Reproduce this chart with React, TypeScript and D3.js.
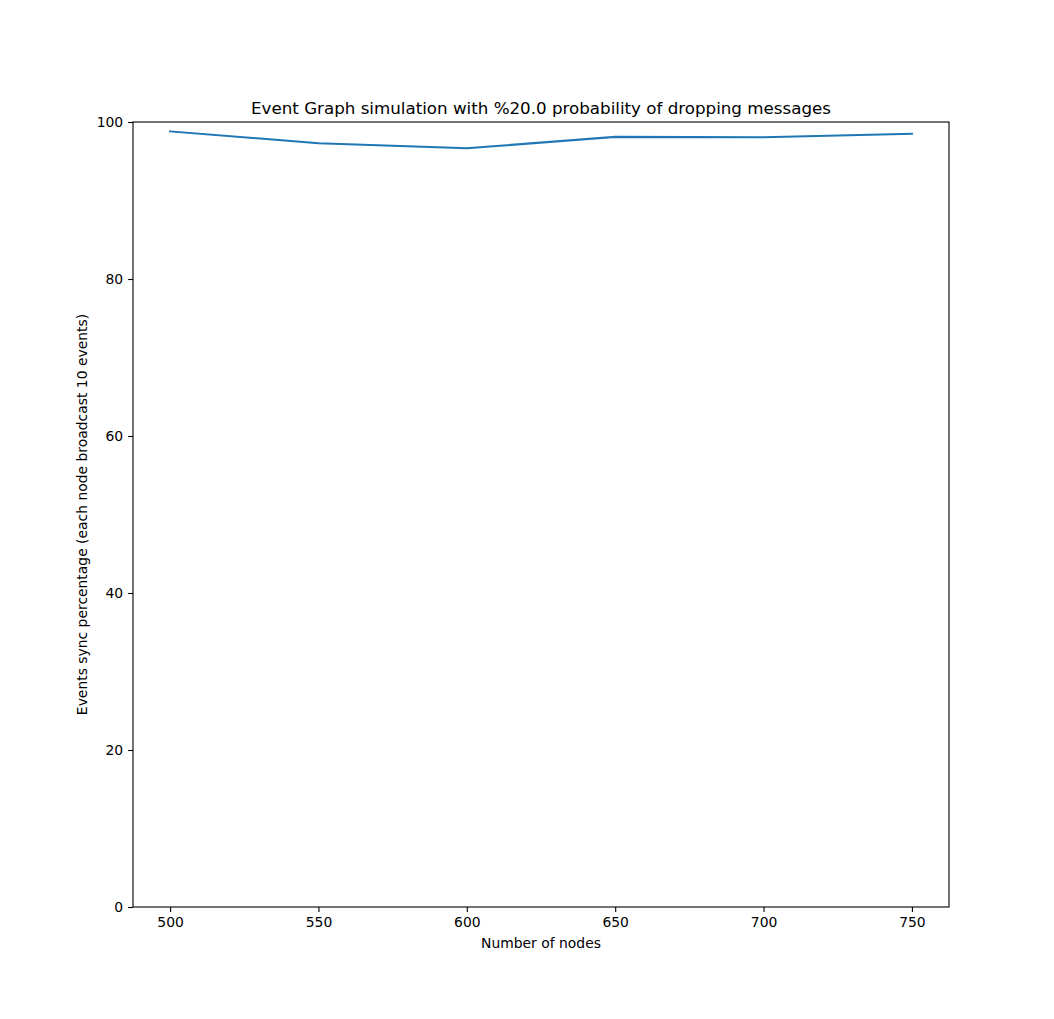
import React, { useEffect, useRef } from "react";
import * as d3 from "d3";

const nodes = [500, 550, 600, 650, 700, 750];
const syncPct = [98.8, 97.3, 96.65, 98.1, 98.05, 98.5];
const xTicks = [500, 550, 600, 650, 700, 750];
const yTicks = [0, 20, 40, 60, 80, 100];
const title = "Event Graph simulation with %20.0 probability of dropping messages";
const xLabel = "Number of nodes";
const yLabel = "Events sync percentage (each node broadcast 10 events)";

const W = 1054, H = 1019;
const M = { left: 133, right: 949, top: 122, bottom: 907 };

export default function App() {
  const ref = useRef<SVGSVGElement>(null);
  useEffect(() => {
    const svg = d3.select(ref.current);
    svg.selectAll("*").remove();
    const font = "DejaVu Sans, sans-serif";
    const x = d3.scaleLinear().domain([487.5, 762.5]).range([M.left, M.right]);
    const y = d3.scaleLinear().domain([0, 100]).range([M.bottom, M.top]);

    svg.append("rect").attr("width", W).attr("height", H).attr("fill", "white");

    const line = d3.line<number>().x((_, i) => x(nodes[i])).y((d) => y(d));
    svg.append("path").datum(syncPct).attr("d", line).attr("fill", "none")
      .attr("stroke", "#1f77b4").attr("stroke-width", 2.08).attr("stroke-linecap", "square");

    const xa = svg.append("g").attr("transform", `translate(0,${M.bottom})`)
      .call(d3.axisBottom(x).tickValues(xTicks).tickSize(4.9).tickPadding(4.9).tickFormat(d3.format("d")));
    const ya = svg.append("g").attr("transform", `translate(${M.left},0)`)
      .call(d3.axisLeft(y).tickValues(yTicks).tickSize(4.9).tickPadding(4.9).tickFormat(d3.format("d")));
    [xa, ya].forEach((a) => {
      a.select(".domain").remove();
      a.selectAll("line").attr("stroke", "black").attr("stroke-width", 1.1);
      a.selectAll("text").attr("font-family", font).attr("font-size", 13.9).attr("fill", "black");
    });

    svg.append("rect").attr("x", M.left).attr("y", M.top).attr("width", M.right - M.left)
      .attr("height", M.bottom - M.top).attr("fill", "none").attr("stroke", "black").attr("stroke-width", 1.1);

    svg.append("text").attr("x", (M.left + M.right) / 2).attr("y", 114).attr("text-anchor", "middle")
      .attr("font-family", font).attr("font-size", 16.7).text(title);
    svg.append("text").attr("x", (M.left + M.right) / 2).attr("y", 948).attr("text-anchor", "middle")
      .attr("font-family", font).attr("font-size", 13.9).text(xLabel);
    svg.append("text").attr("transform", `translate(87,${(M.top + M.bottom) / 2}) rotate(-90)`)
      .attr("text-anchor", "middle").attr("font-family", font).attr("font-size", 13.9).text(yLabel);
  }, []);
  return <svg ref={ref} width={W} height={H} style={{ position: "absolute", left: 0, top: 0 }} />;
}
